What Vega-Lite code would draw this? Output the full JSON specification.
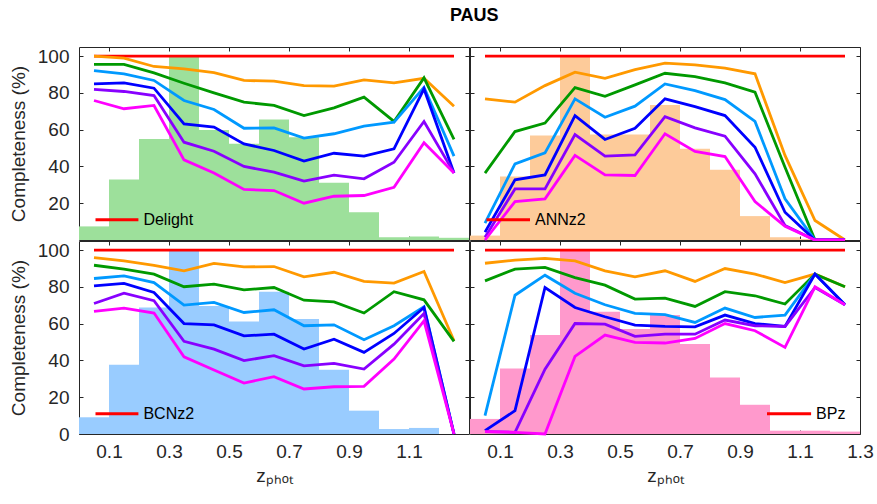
{
  "$schema": "https://vega.github.io/schema/vega-lite/v6.json",
  "background": "white",
  "padding": {"left": 8, "top": 7, "right": 5, "bottom": 2},
  "title": {"text": "PAUS", "font": "Liberation Sans", "fontSize": 18, "fontWeight": "bold", "color": "#000000", "anchor": "middle", "offset": 21, "dx": 33},
  "datasets": {
    "main": [
      {"p":"Delight","z":0.05,"z0":0.0,"z1":0.1,"h":7.4,"r":100,"o":100,"g":95.5,"lb":92.2,"b":84.9,"pu":81.9,"m":75.9},
      {"p":"Delight","z":0.15,"z0":0.1,"z1":0.2,"h":32.9,"r":100,"o":99,"g":95.5,"lb":90.4,"b":85.5,"pu":80.8,"m":71.4},
      {"p":"Delight","z":0.25,"z0":0.2,"z1":0.3,"h":54.9,"r":100,"o":94.4,"g":90.9,"lb":86.8,"b":82.6,"pu":78.6,"m":73.2},
      {"p":"Delight","z":0.35,"z0":0.3,"z1":0.4,"h":100,"r":100,"o":93.1,"g":85.3,"lb":75.9,"b":63.2,"pu":53.2,"m":43.6},
      {"p":"Delight","z":0.45,"z0":0.4,"z1":0.5,"h":59.9,"r":100,"o":91,"g":80,"lb":71,"b":61.4,"pu":48.3,"m":36.5},
      {"p":"Delight","z":0.55,"z0":0.5,"z1":0.6,"h":52.3,"r":100,"o":86.8,"g":75,"lb":60.8,"b":52.3,"pu":40,"m":27.5},
      {"p":"Delight","z":0.65,"z0":0.6,"z1":0.7,"h":65.5,"r":100,"o":86.4,"g":73.2,"lb":61,"b":48.7,"pu":36.9,"m":26.9},
      {"p":"Delight","z":0.75,"z0":0.7,"z1":0.8,"h":55.9,"r":100,"o":84,"g":67.7,"lb":55.4,"b":42.9,"pu":32,"m":20},
      {"p":"Delight","z":0.85,"z0":0.8,"z1":0.9,"h":31.1,"r":100,"o":83.7,"g":71.9,"lb":57.8,"b":47.2,"pu":35.3,"m":23.8},
      {"p":"Delight","z":0.95,"z0":0.9,"z1":1.0,"h":15.1,"r":100,"o":87.1,"g":77.7,"lb":61.9,"b":45.6,"pu":33.3,"m":24.2},
      {"p":"Delight","z":1.05,"z0":1.0,"z1":1.1,"h":1.5,"r":100,"o":85.5,"g":64.5,"lb":64.1,"b":49.6,"pu":42.3,"m":28.7},
      {"p":"Delight","z":1.15,"z0":1.1,"z1":1.2,"h":1.9,"r":100,"o":88,"g":88.2,"lb":83.1,"b":82.2,"pu":64.5,"m":52.9},
      {"p":"Delight","z":1.25,"z0":1.2,"z1":1.3,"h":1.2,"r":100,"o":72.8,"g":54.7,"lb":45.6,"b":36.5,"pu":36.5,"m":36.5},

      {"p":"ANNz2","z":0.05,"z0":0.0,"z1":0.1,"h":2.4,"r":100,"o":76.8,"g":36.4,"lb":9.2,"b":4.3,"pu":1.5,"m":0},
      {"p":"ANNz2","z":0.15,"z0":0.1,"z1":0.2,"h":34.5,"r":100,"o":75,"g":59,"lb":41.4,"b":32.7,"pu":27.8,"m":20.9},
      {"p":"ANNz2","z":0.25,"z0":0.2,"z1":0.3,"h":56.8,"r":100,"o":84,"g":63.6,"lb":47.4,"b":35.4,"pu":27.8,"m":22.4},
      {"p":"ANNz2","z":0.35,"z0":0.3,"z1":0.4,"h":100,"r":100,"o":91.3,"g":82.9,"lb":76.8,"b":67.7,"pu":57.4,"m":46},
      {"p":"ANNz2","z":0.45,"z0":0.4,"z1":0.5,"h":57.4,"r":100,"o":88,"g":78.2,"lb":66.8,"b":54.7,"pu":45.6,"m":35.4},
      {"p":"ANNz2","z":0.55,"z0":0.5,"z1":0.6,"h":57.4,"r":100,"o":92.7,"g":84.4,"lb":72.8,"b":60.8,"pu":46.3,"m":35.1},
      {"p":"ANNz2","z":0.65,"z0":0.6,"z1":0.7,"h":73.5,"r":100,"o":96.2,"g":90.7,"lb":84.9,"b":76.8,"pu":67.1,"m":57.8},
      {"p":"ANNz2","z":0.75,"z0":0.7,"z1":0.8,"h":49.6,"r":100,"o":95.3,"g":88.9,"lb":81.3,"b":72.6,"pu":61,"m":48.2},
      {"p":"ANNz2","z":0.85,"z0":0.8,"z1":0.9,"h":38.2,"r":100,"o":93.5,"g":85.5,"lb":76.4,"b":67.7,"pu":56.5,"m":45.4},
      {"p":"ANNz2","z":0.95,"z0":0.9,"z1":1.0,"h":13,"r":100,"o":90.4,"g":80.4,"lb":64.5,"b":50.5,"pu":36,"m":20.9},
      {"p":"ANNz2","z":1.05,"z0":1.0,"z1":1.1,"h":1.5,"r":100,"o":46,"g":39.6,"lb":22.4,"b":15.1,"pu":7.9,"m":7.4},
      {"p":"ANNz2","z":1.15,"z0":1.1,"z1":1.2,"h":0.6,"r":100,"o":10.6,"g":0,"lb":0,"b":0,"pu":0,"m":0},
      {"p":"ANNz2","z":1.25,"z0":1.2,"z1":1.3,"h":0,"r":100,"o":0,"g":0,"lb":0,"b":0,"pu":0,"m":0},

      {"p":"BCNz2","z":0.05,"z0":0.0,"z1":0.1,"h":9.1,"r":100,"o":96,"g":91.8,"lb":84.6,"b":80.6,"pu":71,"m":66.7},
      {"p":"BCNz2","z":0.15,"z0":0.1,"z1":0.2,"h":37.7,"r":100,"o":94.2,"g":89.7,"lb":86,"b":81.9,"pu":76.6,"m":68.5},
      {"p":"BCNz2","z":0.25,"z0":0.2,"z1":0.3,"h":68.8,"r":100,"o":91.8,"g":87,"lb":82.4,"b":77,"pu":72.5,"m":65.8},
      {"p":"BCNz2","z":0.35,"z0":0.3,"z1":0.4,"h":100,"r":100,"o":88.8,"g":80.1,"lb":70.1,"b":60.1,"pu":50.4,"m":42},
      {"p":"BCNz2","z":0.45,"z0":0.4,"z1":0.5,"h":69.7,"r":100,"o":92.8,"g":81.5,"lb":71.6,"b":59.4,"pu":46.2,"m":34.8},
      {"p":"BCNz2","z":0.55,"z0":0.5,"z1":0.6,"h":61.2,"r":100,"o":90.9,"g":78.4,"lb":66.1,"b":53.4,"pu":39.9,"m":27.7},
      {"p":"BCNz2","z":0.65,"z0":0.6,"z1":0.7,"h":77.4,"r":100,"o":91.1,"g":79.7,"lb":67.6,"b":54.3,"pu":42.6,"m":31.2},
      {"p":"BCNz2","z":0.75,"z0":0.7,"z1":0.8,"h":62.5,"r":100,"o":85.5,"g":72.8,"lb":58.9,"b":46.2,"pu":37.1,"m":24.5},
      {"p":"BCNz2","z":0.85,"z0":0.8,"z1":0.9,"h":35,"r":100,"o":88,"g":71.9,"lb":59.4,"b":51.6,"pu":38.4,"m":25.7},
      {"p":"BCNz2","z":0.95,"z0":0.9,"z1":1.0,"h":12.7,"r":100,"o":83,"g":65.8,"lb":51.3,"b":44.4,"pu":35.3,"m":25.9},
      {"p":"BCNz2","z":1.05,"z0":1.0,"z1":1.1,"h":2.7,"r":100,"o":82.1,"g":77.4,"lb":58.9,"b":54.7,"pu":48.9,"m":40.8},
      {"p":"BCNz2","z":1.15,"z0":1.1,"z1":1.2,"h":3.3,"r":100,"o":88.4,"g":73,"lb":69.2,"b":68.8,"pu":65.6,"m":61.6},
      {"p":"BCNz2","z":1.25,"z0":1.2,"z1":1.3,"h":0,"r":100,"o":50.7,"g":50.4,"lb":0,"b":0,"pu":0,"m":0},

      {"p":"BPz","z":0.05,"z0":0.0,"z1":0.1,"h":8.2,"r":100,"o":92.9,"g":83.3,"lb":10,"b":1.8,"pu":1.3,"m":1.3},
      {"p":"BPz","z":0.15,"z0":0.1,"z1":0.2,"h":35.7,"r":100,"o":94.6,"g":89.7,"lb":75.5,"b":12.7,"pu":0.9,"m":0.9},
      {"p":"BPz","z":0.25,"z0":0.2,"z1":0.3,"h":53.8,"r":100,"o":95.5,"g":90.6,"lb":86.4,"b":79.7,"pu":35.3,"m":0},
      {"p":"BPz","z":0.35,"z0":0.3,"z1":0.4,"h":100,"r":100,"o":94.2,"g":85.1,"lb":76.6,"b":68.8,"pu":60.1,"m":42.2},
      {"p":"BPz","z":0.45,"z0":0.4,"z1":0.5,"h":66.5,"r":100,"o":88.8,"g":81,"lb":70.3,"b":63.8,"pu":59.8,"m":53.8},
      {"p":"BPz","z":0.55,"z0":0.5,"z1":0.6,"h":57.1,"r":100,"o":85.5,"g":73.4,"lb":65.6,"b":59.2,"pu":53.1,"m":49.8},
      {"p":"BPz","z":0.65,"z0":0.6,"z1":0.7,"h":64.7,"r":100,"o":88.8,"g":73.9,"lb":64.9,"b":58.5,"pu":54.3,"m":49.5},
      {"p":"BPz","z":0.75,"z0":0.7,"z1":0.8,"h":48.9,"r":100,"o":83,"g":69.4,"lb":60.7,"b":58.3,"pu":54.3,"m":52},
      {"p":"BPz","z":0.85,"z0":0.8,"z1":0.9,"h":30.8,"r":100,"o":90,"g":77.4,"lb":68.5,"b":64.7,"pu":62,"m":60.1},
      {"p":"BPz","z":0.95,"z0":0.9,"z1":1.0,"h":15.9,"r":100,"o":87,"g":75.2,"lb":63.4,"b":60.1,"pu":58.9,"m":56.2},
      {"p":"BPz","z":1.05,"z0":1.0,"z1":1.1,"h":1.8,"r":100,"o":82.4,"g":70.7,"lb":64.7,"b":58.5,"pu":58.5,"m":47.1},
      {"p":"BPz","z":1.15,"z0":1.1,"z1":1.2,"h":1.8,"r":100,"o":87,"g":87,"lb":87,"b":87,"pu":79.7,"m":80.1},
      {"p":"BPz","z":1.25,"z0":1.2,"z1":1.3,"h":1.3,"r":100,"o":80.1,"g":80.1,"lb":70.3,"b":70.3,"pu":70.3,"m":70.3}
    ],
    "leg": [
      {"p":"Delight","x1":0.055,"x2":0.198,"y":11,"label":"Delight"},
      {"p":"ANNz2","x1":0.055,"x2":0.2,"y":11,"label":"ANNz2"},
      {"p":"BCNz2","x1":0.055,"x2":0.198,"y":11,"label":"BCNz2"},
      {"p":"BPz","x1":0.99,"x2":1.137,"y":11,"label":"BPz"}
    ]
  },
  "columns": 2,
  "spacing": 1,
  "bounds": "flush",
  "concat": [
        {
          "width": 390, "height": 193,
          "resolve": {"axis": {"x": "independent", "y": "independent"}},
          "layer": [
            {
              "data": {"name": "main"},
              "transform": [{"filter": "datum.p === 'Delight'"}],
              "mark": {"type": "bar", "color": "#9DE09B"},
              "encoding": {
                "x": {"field": "z0", "type": "quantitative", "scale": {"domain": [0, 1.3], "nice": false}, "axis": {"orient": "bottom", "values": [0.1,0.3,0.5,0.7,0.9,1.1], "labels": false, "title": null}},
                "x2": {"field": "z1"},
                "y": {"field": "h", "type": "quantitative", "scale": {"domain": [0, 105], "nice": false}, "axis": {"orient": "left", "values": [20,40,60,80,100], "title": "Completeness (%)"}},
                "y2": {"datum": 0}
              }
            },
            {
              "data": {"name": "main"},
              "transform": [{"filter": "datum.p === 'Delight'"}, {"fold": ["r","o","g","lb","b","pu","m"], "as": ["s","c"]}],
              "mark": {"type": "line", "strokeWidth": 2.8},
              "encoding": {
                "x": {"field": "z", "type": "quantitative", "scale": {"domain": [0, 1.3], "nice": false}, "axis": {"orient": "top", "values": [0.1,0.3,0.5,0.7,0.9,1.1], "labels": false, "title": null}},
                "y": {"field": "c", "type": "quantitative", "scale": {"domain": [0, 105], "nice": false}, "axis": {"orient": "right", "values": [20,40,60,80,100], "labels": false, "title": null}},
                "color": {"field": "s", "type": "nominal", "scale": {"domain": ["r","o","g","lb","b","pu","m"], "range": ["#FF0000","#FF9900","#009900","#0099FF","#0000FF","#8800FF","#FF00FF"]}, "legend": null}
              }
            },
            {
              "data": {"name": "leg"},
              "transform": [{"filter": "datum.p === 'Delight'"}],
              "mark": {"type": "rule", "color": "#FF0000", "strokeWidth": 3},
              "encoding": {
                "x": {"field": "x1", "type": "quantitative", "scale": {"domain": [0, 1.3], "nice": false}, "axis": null},
                "x2": {"field": "x2"},
                "y": {"field": "y", "type": "quantitative", "scale": {"domain": [0, 105], "nice": false}, "axis": null}
              }
            },
            {
              "data": {"name": "leg"},
              "transform": [{"filter": "datum.p === 'Delight'"}],
              "mark": {"type": "text", "align": "left", "baseline": "middle", "dx": 5, "font": "Liberation Sans", "fontSize": 16, "color": "#000000"},
              "encoding": {
                "x": {"field": "x2", "type": "quantitative", "scale": {"domain": [0, 1.3], "nice": false}, "axis": null},
                "y": {"field": "y", "type": "quantitative", "scale": {"domain": [0, 105], "nice": false}, "axis": null},
                "text": {"field": "label"}
              }
            }
          ]
        },
        {
          "width": 390, "height": 193,
          "resolve": {"axis": {"x": "independent", "y": "independent"}},
          "layer": [
            {
              "data": {"name": "main"},
              "transform": [{"filter": "datum.p === 'ANNz2'"}],
              "mark": {"type": "bar", "color": "#FDCB9A"},
              "encoding": {
                "x": {"field": "z0", "type": "quantitative", "scale": {"domain": [0, 1.3], "nice": false}, "axis": {"orient": "bottom", "values": [0.1,0.3,0.5,0.7,0.9,1.1,1.3], "labels": false, "title": null}},
                "x2": {"field": "z1"},
                "y": {"field": "h", "type": "quantitative", "scale": {"domain": [0, 105], "nice": false}, "axis": {"orient": "left", "values": [20,40,60,80,100], "labels": false, "title": null}},
                "y2": {"datum": 0}
              }
            },
            {
              "data": {"name": "main"},
              "transform": [{"filter": "datum.p === 'ANNz2'"}, {"fold": ["r","o","g","lb","b","pu","m"], "as": ["s","c"]}],
              "mark": {"type": "line", "strokeWidth": 2.8},
              "encoding": {
                "x": {"field": "z", "type": "quantitative", "scale": {"domain": [0, 1.3], "nice": false}, "axis": {"orient": "top", "values": [0.1,0.3,0.5,0.7,0.9,1.1,1.3], "labels": false, "title": null}},
                "y": {"field": "c", "type": "quantitative", "scale": {"domain": [0, 105], "nice": false}, "axis": {"orient": "right", "values": [20,40,60,80,100], "labels": false, "title": null}},
                "color": {"field": "s", "type": "nominal", "scale": {"domain": ["r","o","g","lb","b","pu","m"], "range": ["#FF0000","#FF9900","#009900","#0099FF","#0000FF","#8800FF","#FF00FF"]}, "legend": null}
              }
            },
            {
              "data": {"name": "leg"},
              "transform": [{"filter": "datum.p === 'ANNz2'"}],
              "mark": {"type": "rule", "color": "#FF0000", "strokeWidth": 3},
              "encoding": {
                "x": {"field": "x1", "type": "quantitative", "scale": {"domain": [0, 1.3], "nice": false}, "axis": null},
                "x2": {"field": "x2"},
                "y": {"field": "y", "type": "quantitative", "scale": {"domain": [0, 105], "nice": false}, "axis": null}
              }
            },
            {
              "data": {"name": "leg"},
              "transform": [{"filter": "datum.p === 'ANNz2'"}],
              "mark": {"type": "text", "align": "left", "baseline": "middle", "dx": 5, "font": "Liberation Sans", "fontSize": 16, "color": "#000000"},
              "encoding": {
                "x": {"field": "x2", "type": "quantitative", "scale": {"domain": [0, 1.3], "nice": false}, "axis": null},
                "y": {"field": "y", "type": "quantitative", "scale": {"domain": [0, 105], "nice": false}, "axis": null},
                "text": {"field": "label"}
              }
            }
          ]
        },
        {
          "width": 390, "height": 193,
          "resolve": {"axis": {"x": "independent", "y": "independent"}},
          "layer": [
            {
              "data": {"name": "main"},
              "transform": [{"filter": "datum.p === 'BCNz2'"}],
              "mark": {"type": "bar", "color": "#99CCFF"},
              "encoding": {
                "x": {"field": "z0", "type": "quantitative", "scale": {"domain": [0, 1.3], "nice": false}, "axis": {"orient": "bottom", "values": [0.1,0.3,0.5,0.7,0.9,1.1], "format": ".1f", "title": "zₚₕₒₜ"}},
                "x2": {"field": "z1"},
                "y": {"field": "h", "type": "quantitative", "scale": {"domain": [0, 105], "nice": false}, "axis": {"orient": "left", "values": [0,20,40,60,80,100], "title": "Completeness (%)"}},
                "y2": {"datum": 0}
              }
            },
            {
              "data": {"name": "main"},
              "transform": [{"filter": "datum.p === 'BCNz2'"}, {"fold": ["r","o","g","lb","b","pu","m"], "as": ["s","c"]}],
              "mark": {"type": "line", "strokeWidth": 2.8},
              "encoding": {
                "x": {"field": "z", "type": "quantitative", "scale": {"domain": [0, 1.3], "nice": false}, "axis": {"orient": "top", "values": [0.1,0.3,0.5,0.7,0.9,1.1], "labels": false, "title": null}},
                "y": {"field": "c", "type": "quantitative", "scale": {"domain": [0, 105], "nice": false}, "axis": {"orient": "right", "values": [20,40,60,80,100], "labels": false, "title": null}},
                "color": {"field": "s", "type": "nominal", "scale": {"domain": ["r","o","g","lb","b","pu","m"], "range": ["#FF0000","#FF9900","#009900","#0099FF","#0000FF","#8800FF","#FF00FF"]}, "legend": null}
              }
            },
            {
              "data": {"name": "leg"},
              "transform": [{"filter": "datum.p === 'BCNz2'"}],
              "mark": {"type": "rule", "color": "#FF0000", "strokeWidth": 3},
              "encoding": {
                "x": {"field": "x1", "type": "quantitative", "scale": {"domain": [0, 1.3], "nice": false}, "axis": null},
                "x2": {"field": "x2"},
                "y": {"field": "y", "type": "quantitative", "scale": {"domain": [0, 105], "nice": false}, "axis": null}
              }
            },
            {
              "data": {"name": "leg"},
              "transform": [{"filter": "datum.p === 'BCNz2'"}],
              "mark": {"type": "text", "align": "left", "baseline": "middle", "dx": 5, "font": "Liberation Sans", "fontSize": 16, "color": "#000000"},
              "encoding": {
                "x": {"field": "x2", "type": "quantitative", "scale": {"domain": [0, 1.3], "nice": false}, "axis": null},
                "y": {"field": "y", "type": "quantitative", "scale": {"domain": [0, 105], "nice": false}, "axis": null},
                "text": {"field": "label"}
              }
            }
          ]
        },
        {
          "width": 390, "height": 193,
          "resolve": {"axis": {"x": "independent", "y": "independent"}},
          "layer": [
            {
              "data": {"name": "main"},
              "transform": [{"filter": "datum.p === 'BPz'"}],
              "mark": {"type": "bar", "color": "#FF99CC"},
              "encoding": {
                "x": {"field": "z0", "type": "quantitative", "scale": {"domain": [0, 1.3], "nice": false}, "axis": {"orient": "bottom", "values": [0.1,0.3,0.5,0.7,0.9,1.1,1.3], "format": ".1f", "title": "zₚₕₒₜ"}},
                "x2": {"field": "z1"},
                "y": {"field": "h", "type": "quantitative", "scale": {"domain": [0, 105], "nice": false}, "axis": {"orient": "left", "values": [0,20,40,60,80,100], "labels": false, "title": null}},
                "y2": {"datum": 0}
              }
            },
            {
              "data": {"name": "main"},
              "transform": [{"filter": "datum.p === 'BPz'"}, {"fold": ["r","o","g","lb","b","pu","m"], "as": ["s","c"]}],
              "mark": {"type": "line", "strokeWidth": 2.8},
              "encoding": {
                "x": {"field": "z", "type": "quantitative", "scale": {"domain": [0, 1.3], "nice": false}, "axis": {"orient": "top", "values": [0.1,0.3,0.5,0.7,0.9,1.1,1.3], "labels": false, "title": null}},
                "y": {"field": "c", "type": "quantitative", "scale": {"domain": [0, 105], "nice": false}, "axis": {"orient": "right", "values": [20,40,60,80,100], "labels": false, "title": null}},
                "color": {"field": "s", "type": "nominal", "scale": {"domain": ["r","o","g","lb","b","pu","m"], "range": ["#FF0000","#FF9900","#009900","#0099FF","#0000FF","#8800FF","#FF00FF"]}, "legend": null}
              }
            },
            {
              "data": {"name": "leg"},
              "transform": [{"filter": "datum.p === 'BPz'"}],
              "mark": {"type": "rule", "color": "#FF0000", "strokeWidth": 3},
              "encoding": {
                "x": {"field": "x1", "type": "quantitative", "scale": {"domain": [0, 1.3], "nice": false}, "axis": null},
                "x2": {"field": "x2"},
                "y": {"field": "y", "type": "quantitative", "scale": {"domain": [0, 105], "nice": false}, "axis": null}
              }
            },
            {
              "data": {"name": "leg"},
              "transform": [{"filter": "datum.p === 'BPz'"}],
              "mark": {"type": "text", "align": "left", "baseline": "middle", "dx": 5, "font": "Liberation Sans", "fontSize": 16, "color": "#000000"},
              "encoding": {
                "x": {"field": "x2", "type": "quantitative", "scale": {"domain": [0, 1.3], "nice": false}, "axis": null},
                "y": {"field": "y", "type": "quantitative", "scale": {"domain": [0, 105], "nice": false}, "axis": null},
                "text": {"field": "label"}
              }
            }
          ]
        }
  ],
  "config": {
    "view": {"stroke": "#262626", "strokeWidth": 1},
    "axis": {
      "domain": false,
      "grid": false,
      "minExtent": 0,
      "tickColor": "#262626",
      "tickSize": -4,
      "labelFont": "Liberation Sans",
      "labelFontSize": 19,
      "labelColor": "#262626",
      "labelPadding": 14,
      "labelFlush": false,
      "titleFont": "Liberation Sans",
      "titleFontSize": 19,
      "titleFontWeight": "normal",
      "titleColor": "#262626",
      "titlePadding": 9
    },
    "axisX": {"labelPadding": 12, "titlePadding": 5}
  }
}
